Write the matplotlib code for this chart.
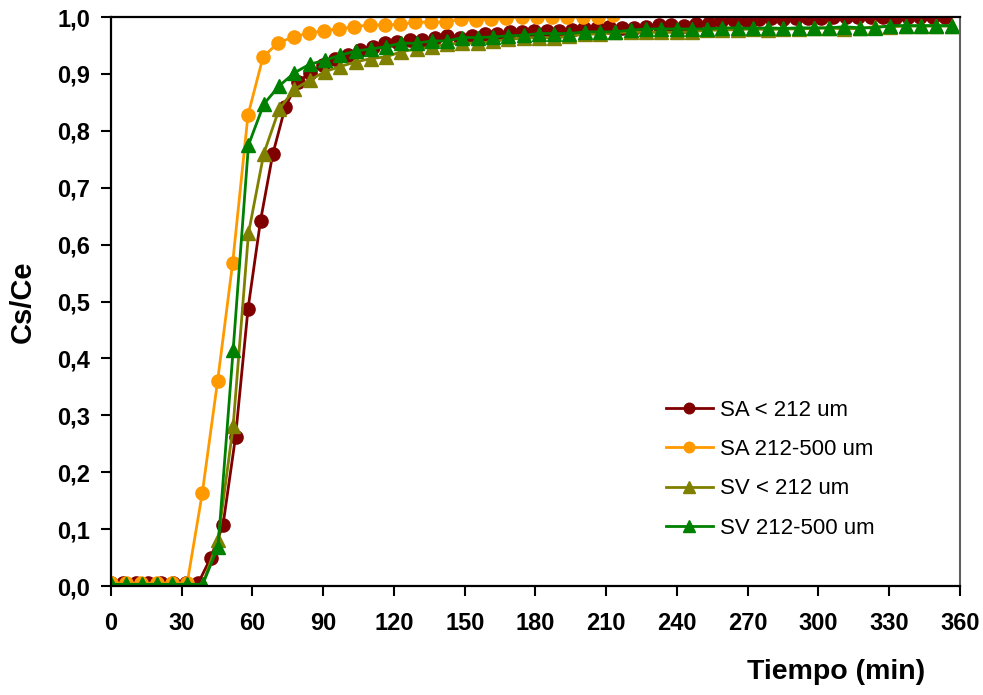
import matplotlib
matplotlib.use("Agg")
import matplotlib.pyplot as plt
from matplotlib.ticker import FuncFormatter, MultipleLocator

plt.rcParams['font.family'] = ['Liberation Sans', 'DejaVu Sans']

# tiempos de muestreo (min)
t_sa_fino = [0, 5.3, 10.6, 15.8, 21.1, 26.4, 31.7, 37.0, 42.2, 47.5, 52.8, 58.1,
             63.4, 68.6, 73.9, 79.2, 84.5, 89.8, 95.0, 100.3, 105.6, 110.9, 116.2,
             121.4, 126.7, 132.0, 137.3, 142.6, 147.8, 153.1, 158.4, 163.7, 169.0,
             174.2, 179.5, 184.8, 190.1, 195.4, 200.6, 205.9, 211.2, 216.5, 221.8,
             227.0, 232.3, 237.6, 242.9, 248.2, 253.4, 258.7, 264.0, 269.3, 274.6,
             279.8, 285.1, 290.4, 295.7, 301.0, 306.2, 311.5, 316.8, 322.1, 327.4,
             332.6, 337.9, 343.2, 348.5, 353.8]
t_sa_grueso = [0, 6.5, 12.9, 19.4, 25.8, 32.3, 38.7, 45.2, 51.6, 58.1, 64.5, 71.0,
               77.4, 83.9, 90.3, 96.8, 103.2, 109.7, 116.1, 122.6, 129.0, 135.5,
               141.9, 148.4, 154.8, 161.3, 167.7, 174.2, 180.6, 187.1, 193.5, 200.0,
               206.4, 212.9]
t_sv = [0, 6.5, 13.0, 19.4, 25.9, 32.4, 38.9, 45.4, 51.8, 58.3, 64.8, 71.3, 77.8,
        84.2, 90.7, 97.2, 103.7, 110.2, 116.6, 123.1, 129.6, 136.1, 142.6, 149.0,
        155.5, 162.0, 168.5, 175.0, 181.4, 187.9, 194.4, 200.9, 207.4, 213.8, 220.3,
        226.8, 233.3, 239.8, 246.2, 252.7, 259.2, 265.7, 272.2, 278.6, 285.1, 291.6,
        298.1, 304.6, 311.0, 317.5, 324.0, 330.5, 337.0, 343.4, 349.9, 356.4]

# Cs/Ce
sa_fino = [0.005, 0.005, 0.005, 0.005, 0.005, 0.005, 0.005, 0.005,
           0.049, 0.107, 0.262, 0.487, 0.642, 0.759, 0.842, 0.886, 0.902, 0.916,
           0.926, 0.933, 0.942, 0.948, 0.954, 0.956,
           0.960, 0.960, 0.964, 0.967, 0.964, 0.967, 0.970, 0.970, 0.973, 0.973,
           0.975, 0.975, 0.975, 0.977, 0.980, 0.981, 0.983, 0.980, 0.981, 0.983,
           0.986, 0.986, 0.985,
           0.987, 0.989, 0.993, 0.995, 0.995, 0.996, 0.998, 0.996, 0.998, 0.998,
           0.998, 1.000, 1.000, 1.000, 1.000, 1.000, 0.998, 1.000, 1.000, 1.000,
           1.000]
sa_grueso = [0.005, 0.005, 0.005, 0.005, 0.005, 0.005,
             0.163, 0.360, 0.568, 0.828, 0.930, 0.955, 0.965, 0.972, 0.976, 0.979,
             0.983, 0.986, 0.986, 0.987, 0.991, 0.991, 0.991, 0.996, 0.995, 0.996,
             0.998, 1.000, 1.000, 1.000, 1.000, 1.000, 1.000, 1.003]
sv_fino = [0.003, 0.003, 0.003, 0.003, 0.003, 0.003, 0.003,
           0.081, 0.281, 0.620, 0.760, 0.838, 0.873, 0.889, 0.904, 0.913, 0.921,
           0.927, 0.930,
           0.939, 0.944, 0.947, 0.953, 0.954, 0.954, 0.957, 0.961, 0.963, 0.964,
           0.964, 0.966, 0.970, 0.970, 0.973, 0.973, 0.973, 0.973, 0.973,
           0.974, 0.977, 0.977, 0.978, 0.979, 0.978, 0.979, 0.979, 0.980, 0.981,
           0.979, 0.980, 0.983, 0.983, 0.984, 0.984, 0.984, 0.984]
sv_grueso = [0.003, 0.003, 0.003, 0.003, 0.003, 0.003, 0.003,
             0.069, 0.415, 0.775, 0.847, 0.879, 0.902, 0.917, 0.924, 0.933, 0.940,
             0.944, 0.948,
             0.954, 0.954, 0.958, 0.958, 0.964, 0.964, 0.965, 0.967, 0.968, 0.971,
             0.971, 0.971, 0.974, 0.974, 0.974, 0.977, 0.979, 0.979, 0.979,
             0.979, 0.979, 0.981, 0.981, 0.980, 0.981, 0.980, 0.981, 0.981, 0.981,
             0.983, 0.981, 0.981, 0.985, 0.985, 0.985, 0.985, 0.985]

fig = plt.figure(figsize=(9.83, 6.95), dpi=100)
ax = fig.add_axes([0.1129, 0.1568, 0.8637, 0.8187])

ax.plot(t_sa_fino, sa_fino, '-o', color='#800000', lw=2, ms=9.5, label='SA < 212 um')
ax.plot(t_sa_grueso, sa_grueso, '-o', color='#FF9900', lw=2, ms=9.5, label='SA 212-500 um')
ax.plot(t_sv, sv_fino, '-^', color='#808000', lw=2, ms=10.5, label='SV < 212 um')
ax.plot(t_sv, sv_grueso, '-^', color='#008000', lw=2, ms=10.5, label='SV 212-500 um')

ax.set_xlim(0, 360)
ax.set_ylim(0, 1.0)
ax.xaxis.set_major_locator(MultipleLocator(30))
ax.yaxis.set_major_locator(MultipleLocator(0.1))
ax.yaxis.set_major_formatter(FuncFormatter(lambda v, p: f"{v:.1f}".replace('.', ',')))

for s in ['left', 'bottom', 'top']:
    ax.spines[s].set_color('black')
    ax.spines[s].set_linewidth(1.6)
ax.spines['right'].set_color('#606060')
ax.spines['right'].set_linewidth(1.5)

ax.tick_params(axis='both', direction='out', length=7, width=1.5, labelsize=17)
ax.tick_params(axis='x', pad=12)
ax.tick_params(axis='y', pad=8)
for lab in ax.get_xticklabels() + ax.get_yticklabels():
    lab.set_fontweight('bold')

ax.set_xlabel('Tiempo (min)', fontsize=20.5, fontweight='bold')
ax.xaxis.set_label_coords(0.854, -0.128)
ax.set_ylabel('Cs/Ce', fontsize=21, fontweight='bold')
ax.yaxis.set_label_coords(-0.087, 0.5)

ax.legend(loc='upper left', bbox_to_anchor=(0.63, 0.362), frameon=False,
          fontsize=16, handlelength=2.1, handletextpad=0.35, labelspacing=0.82,
          markerscale=0.8)

fig.savefig('out.png', dpi=100)
